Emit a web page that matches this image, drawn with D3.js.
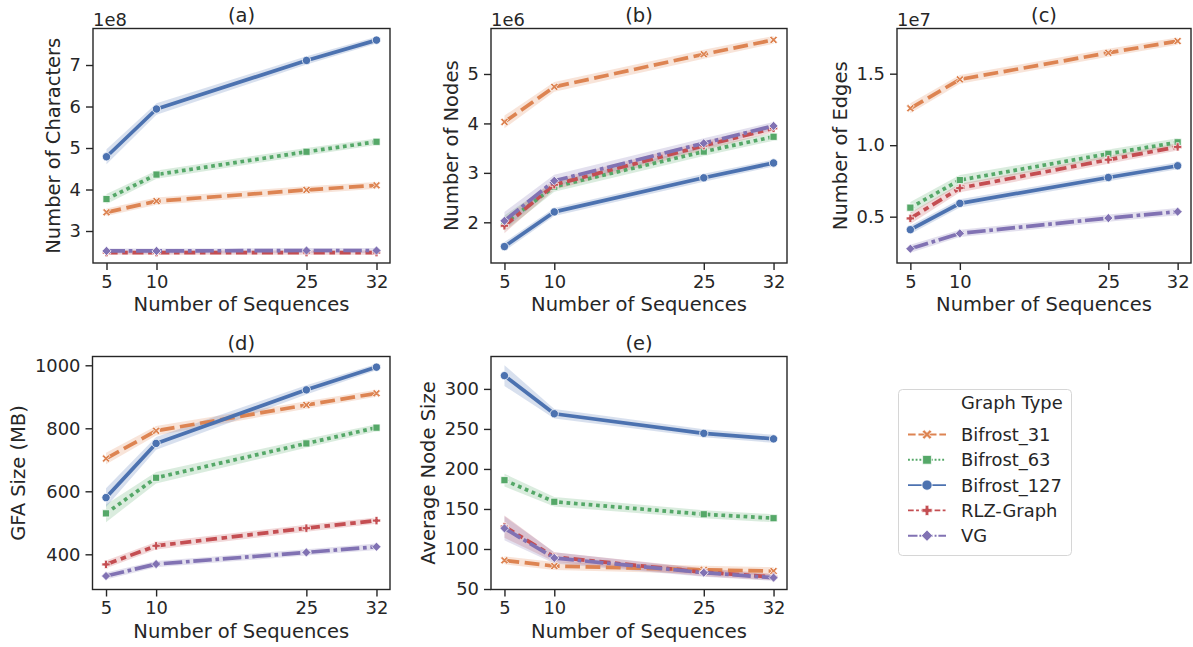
<!DOCTYPE html>
<html><head><meta charset="utf-8">
<script src="https://cdn.jsdelivr.net/npm/d3@7"></script>
<style>
body{margin:0;background:#fff;}
svg text{font-family:"DejaVu Sans",sans-serif;fill:#262626;}
</style>
</head><body>
<svg id="chart" width="1193" height="647"></svg>
<script>
// ---------------- DATA ----------------
const xValues = [5, 10, 25, 32];
const xTickLabels = ["5", "10", "25", "32"];
const seriesNames = ["Bifrost_31", "Bifrost_63", "Bifrost_127", "RLZ-Graph", "VG"];

// (a) Number of Characters (x1e8)
const charsValues = [
  [3.45, 3.72, 3.99, 4.10],
  [3.77, 4.36, 4.91, 5.15],
  [4.79, 5.94, 7.11, 7.60],
  [2.48, 2.48, 2.48, 2.48],
  [2.52, 2.52, 2.53, 2.53]
];
const charsCI = [
  [0.09, 0.09, 0.09, 0.08],
  [0.12, 0.10, 0.09, 0.08],
  [0.18, 0.14, 0.10, 0.08],
  [0.05, 0.05, 0.05, 0.05],
  [0.06, 0.06, 0.06, 0.06]
];
// (b) Number of Nodes (x1e6)
const nodesValues = [
  [4.03, 4.74, 5.40, 5.69],
  [1.98, 2.72, 3.43, 3.73],
  [1.51, 2.21, 2.90, 3.20],
  [1.93, 2.76, 3.55, 3.90],
  [2.03, 2.84, 3.60, 3.95]
];
const nodesCI = [
  [0.13, 0.10, 0.09, 0.08],
  [0.16, 0.10, 0.09, 0.08],
  [0.09, 0.08, 0.08, 0.07],
  [0.15, 0.10, 0.09, 0.08],
  [0.18, 0.12, 0.10, 0.08]
];
// (c) Number of Edges (x1e7)
const edgesValues = [
  [1.258, 1.460, 1.646, 1.728],
  [0.563, 0.756, 0.940, 1.020],
  [0.409, 0.593, 0.774, 0.856],
  [0.488, 0.700, 0.898, 0.988],
  [0.276, 0.383, 0.490, 0.535]
];
const edgesCI = [
  [0.035, 0.030, 0.028, 0.025],
  [0.040, 0.035, 0.030, 0.028],
  [0.030, 0.028, 0.026, 0.025],
  [0.040, 0.030, 0.028, 0.025],
  [0.028, 0.026, 0.025, 0.025]
];
// (d) GFA Size (MB)
const gfaValues = [
  [704, 792, 874, 911],
  [530, 643, 752, 802],
  [580, 752, 922, 994],
  [368, 427, 483, 507],
  [331, 369, 406, 424]
];
const gfaCI = [
  [18, 15, 12, 11],
  [28, 18, 14, 11],
  [30, 20, 15, 10],
  [12, 12, 11, 10],
  [11, 10, 10, 10]
];
// (e) Average Node Size
const avgValues = [
  [85.8, 78.7, 74.0, 72.4],
  [186, 159, 143.4, 138.5],
  [316.6, 269, 244.5, 237.6],
  [128, 90, 71, 65],
  [125.8, 88.8, 70.4, 64.2]
];
const avgCI = [
  [5, 5, 5, 5],
  [8, 6, 5, 5],
  [13, 6, 5, 5],
  [14, 6, 5, 4],
  [15, 7, 5, 4]
];

const yTicksA = [3, 4, 5, 6, 7];
const yTicksB = [2, 3, 4, 5];
const yTicksC = [0.5, 1.0, 1.5];
const yTicksD = [400, 600, 800, 1000];
const yTicksE = [50, 100, 150, 200, 250, 300];

// ---------------- STYLE ----------------
const colors = ["#dd8452", "#55a868", "#4c72b0", "#c44e52", "#8172b3"];
const dashes = [[4, 1.5], [1, 1], null, [3, 1.25, 1.5, 1.25], [5, 1, 1, 1]];
const markers = ["X", "square", "circle", "P", "diamond"];
const TXT = "#262626";
const tickFont = 17.9, labelFont = 19.5;
const lineW = 3.7, markerSize = 8.3;

const panels = [
  {title: "(a)", ylabel: "Number of Characters", values: charsValues, ci: charsCI, ticks: yTicksA, fmt: d3.format("d"), offset: "1e8",
   box: {l: 93, r: 390, t: 28.5, b: 263}, domain: [2.229, 7.88]},
  {title: "(b)", ylabel: "Number of Nodes", values: nodesValues, ci: nodesCI, ticks: yTicksB, fmt: d3.format("d"), offset: "1e6",
   box: {l: 491, r: 787, t: 28.5, b: 263}, domain: [1.177, 5.92]},
  {title: "(c)", ylabel: "Number of Edges", values: edgesValues, ci: edgesCI, ticks: yTicksC, fmt: d3.format(".1f"), offset: "1e7",
   box: {l: 897, r: 1191, t: 28.5, b: 263}, domain: [0.176, 1.816]},
  {title: "(d)", ylabel: "GFA Size (MB)", values: gfaValues, ci: gfaCI, ticks: yTicksD, fmt: d3.format("d"), offset: null,
   box: {l: 92.5, r: 390, t: 356.5, b: 589.5}, domain: [288.3, 1027.9]},
  {title: "(e)", ylabel: "Average Node Size", values: avgValues, ci: avgCI, ticks: yTicksE, fmt: d3.format("d"), offset: null,
   box: {l: 491, r: 787, t: 356.5, b: 589.5}, domain: [49.4, 340.5]}
];

const svg = d3.select("#chart");

function markerPath(type, s) {
  const h = s / 2;
  if (type === "circle") {
    return `M${h},0A${h},${h} 0 1,1 ${-h},0A${h},${h} 0 1,1 ${h},0Z`;
  }
  if (type === "square") {
    const a = s * 0.43;
    return `M${-a},${-a}H${a}V${a}H${-a}Z`;
  }
  if (type === "diamond") {
    const d = h * 1.1;
    return `M0,${-d}L${d},0L0,${d}L${-d},0Z`;
  }
  if (type === "P") {
    const w = h * 0.36;
    return `M${-w},${-h}H${w}V${-w}H${h}V${w}H${w}V${h}H${-w}V${w}H${-h}V${-w}H${-w}Z`;
  }
  if (type === "X") {
    const k = h * 0.4, e = h * 0.95;
    const pts = [[0, -k], [e - k, -e], [e, -e + k], [k, 0], [e, e - k], [e - k, e], [0, k], [-e + k, e], [-e, e - k], [-k, 0], [-e, -e + k], [-e + k, -e]];
    return "M" + pts.map(p => p.join(",")).join("L") + "Z";
  }
}

panels.forEach(p => {
  const g = svg.append("g");
  const x = d3.scaleLinear().domain([3.65, 33.35]).range([p.box.l, p.box.r]);
  const y = d3.scaleLinear().domain(p.domain).range([p.box.b, p.box.t]);

  // bands
  p.values.forEach((vals, si) => {
    const area = d3.area()
      .x((d, i) => x(xValues[i]))
      .y0((d, i) => y(d - p.ci[si][i]))
      .y1((d, i) => y(d + p.ci[si][i]));
    g.append("path").datum(vals).attr("d", area)
      .attr("fill", colors[si]).attr("fill-opacity", 0.22).attr("stroke", "none");
  });
  // lines + markers
  p.values.forEach((vals, si) => {
    const line = d3.line().x((d, i) => x(xValues[i])).y(d => y(d));
    const path = g.append("path").datum(vals).attr("d", line)
      .attr("fill", "none").attr("stroke", colors[si]).attr("stroke-width", lineW)
      .attr("stroke-linejoin", "round").attr("stroke-linecap", dashes[si] ? "butt" : "square");
    if (dashes[si]) path.attr("stroke-dasharray", dashes[si].map(v => v * lineW).join(","));
    g.selectAll(null).data(vals).enter().append("path")
      .attr("transform", (d, i) => `translate(${x(xValues[i])},${y(d)})`)
      .attr("d", markerPath(markers[si], markerSize))
      .attr("fill", colors[si]).attr("stroke", "#fff").attr("stroke-width", 0.75);
  });

  // axes
  const xAxis = d3.axisBottom(x).tickValues(xValues).tickFormat((d, i) => xTickLabels[i]).tickSize(7).tickPadding(5);
  const yAxis = d3.axisLeft(y).tickValues(p.ticks).tickFormat(p.fmt).tickSize(7).tickPadding(5);
  const gx = g.append("g").attr("transform", `translate(0,${p.box.b})`).call(xAxis);
  const gy = g.append("g").attr("transform", `translate(${p.box.l},0)`).call(yAxis);
  [gx, gy].forEach(a => {
    a.select(".domain").remove();
    a.selectAll(".tick line").attr("stroke", TXT).attr("stroke-width", 1.4);
    a.selectAll(".tick text").attr("fill", TXT).style("font-size", tickFont + "px").style("font-family", "DejaVu Sans");
  });
  // frame
  g.append("rect").attr("x", p.box.l).attr("y", p.box.t)
    .attr("width", p.box.r - p.box.l).attr("height", p.box.b - p.box.t)
    .attr("fill", "none").attr("stroke", TXT).attr("stroke-width", 1.4);

  // titles & labels
  g.append("text").attr("x", (p.box.l + p.box.r) / 2).attr("y", p.box.t - 7)
    .attr("text-anchor", "middle").style("font-size", labelFont + "px").text(p.title);
  g.append("text").attr("x", (p.box.l + p.box.r) / 2).attr("y", p.box.b + 48)
    .attr("text-anchor", "middle").style("font-size", labelFont + "px").text("Number of Sequences");
  const bb = gy.node().getBBox();
  const lx = p.box.l + bb.x - 10;
  g.append("text").attr("transform", `translate(${lx},${(p.box.t + p.box.b) / 2}) rotate(-90)`)
    .attr("text-anchor", "middle").style("font-size", labelFont + "px").text(p.ylabel);
  if (p.offset) {
    g.append("text").attr("x", p.box.l).attr("y", p.box.t - 3)
      .style("font-size", tickFont + "px").text(p.offset);
  }
});

// legend
const leg = svg.append("g");
leg.append("rect").attr("x", 898.5).attr("y", 389.5).attr("width", 173).attr("height", 166)
  .attr("rx", 4).attr("fill", "#fff").attr("stroke", "#d6d6d6").attr("stroke-width", 1);
leg.append("text").attr("x", 961).attr("y", 408.5).style("font-size", tickFont + "px").text("Graph Type");
const legLW = 1.9;
seriesNames.forEach((name, si) => {
  const by = 441 + si * 25.3;
  const cy = by - 6.5;
  const ln = leg.append("line").attr("x1", 908).attr("x2", 946).attr("y1", cy).attr("y2", cy)
    .attr("stroke", colors[si]).attr("stroke-width", legLW);
  if (dashes[si]) ln.attr("stroke-dasharray", dashes[si].map(v => v * legLW).join(","));
  leg.append("path").attr("transform", `translate(927,${cy})`).attr("d", markerPath(markers[si], 10.2))
    .attr("fill", colors[si]).attr("stroke", "#fff").attr("stroke-width", 0.75);
  leg.append("text").attr("x", 961).attr("y", by).style("font-size", tickFont + "px").text(name);
});
</script>
</body></html>
